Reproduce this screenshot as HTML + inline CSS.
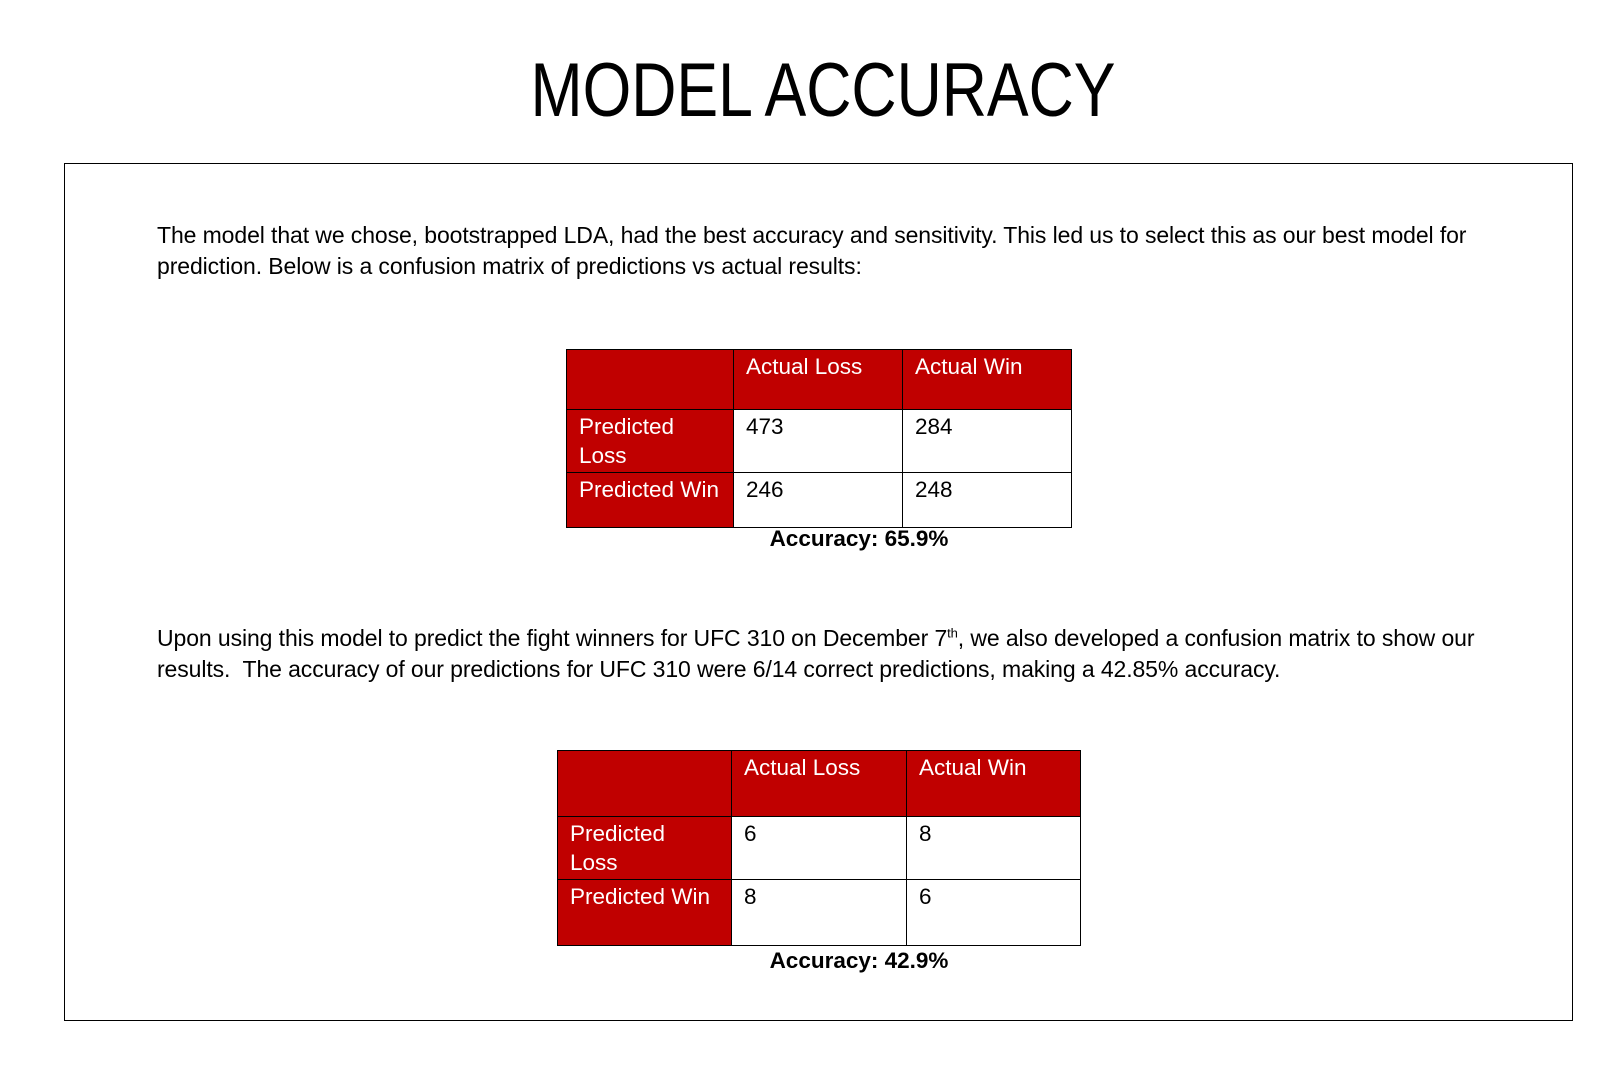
<!DOCTYPE html>
<html><head><meta charset="utf-8"><style>
body{margin:0;width:1614px;height:1066px;background:#fff;position:relative;font-family:"Liberation Sans",sans-serif;color:#000;overflow:hidden}
.abs{position:absolute}
#title{left:0;width:1646px;top:46px;text-align:center;font-size:76px;line-height:90px;transform:scaleX(0.823);transform-origin:823px 0}
#box{left:64px;top:163px;width:1507px;height:856px;border:1px solid #000}
.p{left:157px;font-size:23px;line-height:31px;white-space:nowrap;letter-spacing:-0.1px}
table{position:absolute;border-collapse:collapse;font-size:22.5px;table-layout:fixed}
td{border:1px solid #000;vertical-align:top;padding:2px 8px 2px 12px;line-height:29px;box-sizing:border-box}
td.h{background:#c00000;color:#fff}
.acc{left:0;width:1718px;text-align:center;font-weight:bold;font-size:22.5px;line-height:26px}
</style></head><body>
<div id="title" class="abs">MODEL ACCURACY</div>
<div id="box" class="abs"></div>
<div class="abs p" style="top:220px">The model that we chose, bootstrapped LDA, had the best accuracy and sensitivity. This led us to select this as our best model for<br>prediction. Below is a confusion matrix of predictions vs actual results:</div>
<table style="left:566px;top:349px;width:505px">
<colgroup><col style="width:167px"><col style="width:169px"><col style="width:169px"></colgroup>
<tr style="height:60px"><td class="h"></td><td class="h">Actual Loss</td><td class="h">Actual Win</td></tr>
<tr style="height:59px"><td class="h">Predicted<br>Loss</td><td>473</td><td>284</td></tr>
<tr style="height:55px"><td class="h" style="white-space:nowrap">Predicted Win</td><td>246</td><td>248</td></tr>
</table>
<div class="abs acc" style="top:526px">Accuracy: 65.9%</div>
<div class="abs p" style="top:623px">Upon using this model to predict the fight winners for UFC 310 on December 7<sup style="font-size:13px;line-height:0">th</sup>, we also developed a confusion matrix to show our<br>results.&nbsp; The accuracy of our predictions for UFC 310 were 6/14 correct predictions, making a 42.85% accuracy.</div>
<table style="left:557px;top:750px;width:523px">
<colgroup><col style="width:174px"><col style="width:175px"><col style="width:174px"></colgroup>
<tr style="height:66px"><td class="h"></td><td class="h">Actual Loss</td><td class="h">Actual Win</td></tr>
<tr style="height:63px"><td class="h">Predicted<br>Loss</td><td>6</td><td>8</td></tr>
<tr style="height:66px"><td class="h">Predicted Win</td><td>8</td><td>6</td></tr>
</table>
<div class="abs acc" style="top:948px">Accuracy: 42.9%</div>
</body></html>
